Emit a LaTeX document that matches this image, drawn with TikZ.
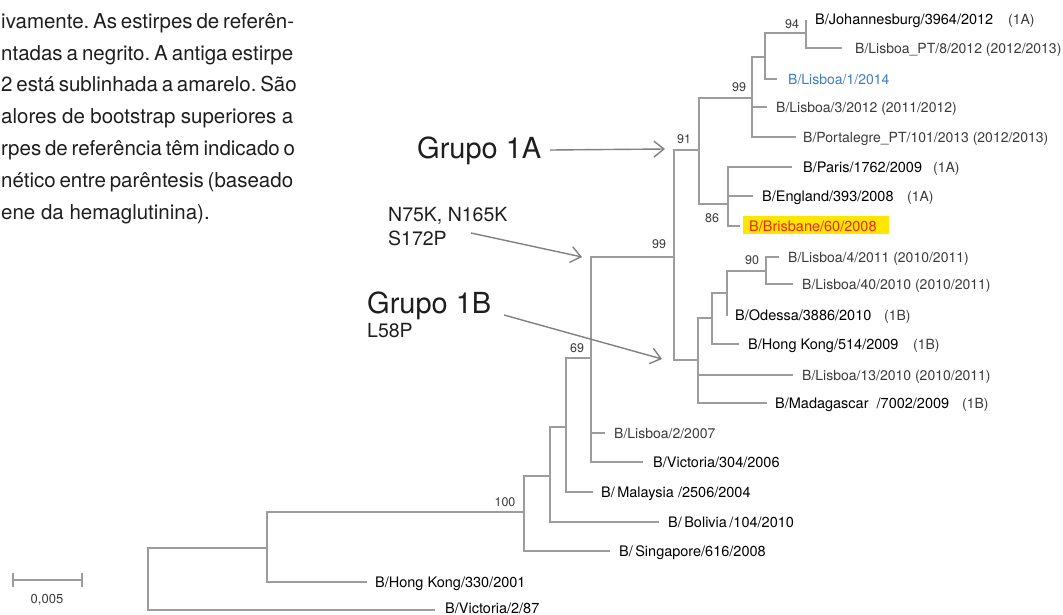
\documentclass[tikz,border=0pt]{standalone}
\usepackage{fontspec}
\setmainfont{TeX Gyre Heros}
\usetikzlibrary{arrows.meta}
\definecolor{treeline}{HTML}{9C9C9C}
\definecolor{arrowgray}{HTML}{808080}
\definecolor{lisboablue}{HTML}{3B7EC3}
\definecolor{hlred}{HTML}{E8271F}
\definecolor{hlyellow}{HTML}{FFE600}
\definecolor{bodytext}{HTML}{1E1E1E}
\definecolor{plainlab}{HTML}{3A3A3A}
\frenchspacing
\begin{document}
\begin{tikzpicture}[x=1pt,y=-1pt,
  branch/.style={draw=treeline, line width=1.2pt},
  reflab/.style={anchor=base west, inner sep=0, font=\fontsize{14.5}{16}\selectfont, text=black},
  lab/.style={anchor=base west, inner sep=0, font=\fontsize{14}{16}\selectfont, text=plainlab},
  suf/.style={anchor=base west, inner sep=0, font=\fontsize{14}{16}\selectfont, text=plainlab},
  boot/.style={inner sep=0, font=\fontsize{12.5}{14}\selectfont, text=plainlab},
  ann/.style={draw=arrowgray, line width=1.4pt, -{Straight Barb[length=10pt,width=16pt]}},
  bodyline/.style={anchor=base west, inner sep=0, font=\fontsize{20.5}{24}\selectfont, text=bodytext},
  grp/.style={anchor=base west, inner sep=0, font=\fontsize{29}{32}\selectfont, text=bodytext},
  mut/.style={anchor=base west, inner sep=0, font=\fontsize{19.5}{22}\selectfont, text=bodytext}]
\useasboundingbox (0,0) rectangle (1063,614);

% ---- caption text (cut at left edge) ----
\node[bodyline] (t1) at (1,28) {\makebox[292pt][s]{ivamente. As estirpes de referên-}};
\node[bodyline] (t2) at (1,60) {\makebox[292pt][s]{ntadas a negrito. A antiga estirpe}};
\node[bodyline] (t3) at (1,91) {\makebox[292pt][s]{2 está sublinhada a amarelo. São}};
\node[bodyline] (t4) at (1,123) {\makebox[292pt][s]{alores de bootstrap superiores a}};
\node[bodyline] (t5) at (1,155) {\makebox[292pt][s]{rpes de referência têm indicado o}};
\node[bodyline] (t6) at (1,187) {\makebox[292pt][s]{nético entre parêntesis (baseado}};
\node[bodyline] (t7) at (1,219) {ene da hemaglutinina).};

% ---- internal nodes ----
\coordinate (R) at (148,579);
\coordinate (n1) at (267,548);
\coordinate (n100) at (524,512);
\coordinate (n2) at (550,476);
\coordinate (n3) at (566,427);
\coordinate (n69) at (591,358);
\coordinate (n99a) at (674,257);
\coordinate (n91) at (699,150);
\coordinate (n99b) at (752,98);
\coordinate (n4) at (765,57);
\coordinate (n94) at (806,33);
\coordinate (n86) at (728,204);
\coordinate (n1B) at (698,360);
\coordinate (n5) at (712,318);
\coordinate (n6) at (727,293);
\coordinate (n90) at (766,271);

% ---- leaf ends ----
\coordinate (jo) at (806,20);
\coordinate (lpt8) at (842,48);
\coordinate (l1) at (777,79);
\coordinate (l3) at (767,107);
\coordinate (port) at (796,137);
\coordinate (par) at (792,167);
\coordinate (eng) at (753,196);
\coordinate (bri) at (740,226);
\coordinate (l4) at (779,257);
\coordinate (l40) at (793,284);
\coordinate (ode) at (727,316);
\coordinate (hk514) at (739,344);
\coordinate (l13) at (793,375);
\coordinate (mad) at (767,403);
\coordinate (l2) at (605,433);
\coordinate (vic304) at (643,462);
\coordinate (mal) at (593,492);
\coordinate (bol) at (659,522);
\coordinate (sin) at (610,551);
\coordinate (hk330) at (367,582);
\coordinate (vic87) at (435,610);

% ---- branches ----
\foreach \p/\c in {R/n1, R/vic87, n1/n100, n1/hk330, n100/n2, n100/sin,
  n2/n3, n2/bol, n3/n69, n3/mal, n69/n99a, n69/l2, n69/vic304,
  n99a/n91, n99a/n1B, n91/n99b, n91/n86, n99b/n4, n99b/l3, n99b/port,
  n4/n94, n4/l1, n94/jo, n94/lpt8, n86/par, n86/eng, n86/bri,
  n1B/n5, n1B/l13, n1B/mad, n5/n6, n5/hk514, n6/n90, n6/ode, n90/l4, n90/l40}
  \draw[branch] (\p) |- (\c);

% ---- bootstrap values ----
\node[boot] (b94) at (792,24) {94};
\node[boot] (b99i) at (739,87) {99};
\node[boot] (b91) at (684,139) {91};
\node[boot] (b86) at (712,218) {86};
\node[boot] (b99o) at (659,244) {99};
\node[boot] (b90) at (752,260) {90};
\node[boot] (b69) at (577,348) {69};
\node[boot] (b100) at (505,502) {100};

% ---- leaf labels ----
\node[reflab] (Ljo) at (815,24) {B/Johannesburg/3964/2012};
\node[suf] (Sjo) at (1008,24) {(1A)};
\node[lab] (Llpt8) at (855,53) {B/Lisboa\_PT/8/2012 (2012/2013)};
\node[lab, text=lisboablue] (Ll1) at (788,84) {B/Lisboa/1/2014};
\node[lab] (Ll3) at (776,112) {B/Lisboa/3/2012 (2011/2012)};
\node[lab] (Lport) at (803,142) {B/Portalegre\_PT/101/2013 (2012/2013)};
\node[reflab] (Lpar) at (803,172) {B/Paris/1762/2009};
\node[suf] (Spar) at (933,172) {(1A)};
\node[reflab] (Leng) at (762,201) {B/England/393/2008};
\node[suf] (Seng) at (907,201) {(1A)};
\node[fill=hlyellow, inner sep=0, minimum width=146pt, minimum height=18pt, anchor=west] (Bbri) at (743,225) {};
\node[reflab, text=hlred] (Lbri) at (749,231) {B/Brisbane/60/2008};
\node[lab] (Ll4) at (788,262) {B/Lisboa/4/2011 (2010/2011)};
\node[lab] (Ll40) at (802,289) {B/Lisboa/40/2010 (2010/2011)};
\node[reflab] (Lode) at (735,320) {B/Odessa/3886/2010};
\node[suf] (Sode) at (884,320) {(1B)};
\node[reflab] (Lhk514) at (748,349) {B/Hong Kong/514/2009};
\node[suf] (Shk514) at (913,349) {(1B)};
\node[lab] (Ll13) at (802,380) {B/Lisboa/13/2010 (2010/2011)};
\node[reflab] (Lmad) at (775,408) {B/Madagascar\ \ /7002/2009};
\node[suf] (Smad) at (962,408) {(1B)};
\node[lab] (Ll2) at (614,438) {B/Lisboa/2/2007};
\node[reflab] (Lvic304) at (653,467) {B/Victoria/304/2006};
\node[reflab] (Lmal) at (601,497) {B/\,Malaysia /2506/2004};
\node[reflab] (Lbol) at (668,527) {B/\,Bolivia\,/104/2010};
\node[reflab] (Lsin) at (619,556) {B/\,Singapore/616/2008};
\node[reflab] (Lhk330) at (375,587) {B/Hong Kong/330/2001};
\node[reflab] (Lvic87) at (445,613) {B/Victoria/2/87};

% ---- scale bar ----
\coordinate (sb1) at (13,580);
\coordinate (sb2) at (82,580);
\draw[branch] (sb1) -- (sb2);
\draw[branch] (sb1) ++(0,-7) -- ++(0,14);
\draw[branch] (sb2) ++(0,-7) -- ++(0,14);
\node[boot, font=\fontsize{13}{15}\selectfont] (sblab) at (47,600) {0,005};

% ---- annotations ----
\node[grp] (g1a) at (417,158) {Grupo 1A};
\coordinate (g1a-from) at (550,150);
\coordinate (g1a-tip) at (665,149);
\draw[ann] (g1a-from) -- (g1a-tip);

\node[mut] (m1) at (388,221) {N75K, N165K};
\node[mut] (m2) at (388,245) {S172P};
\coordinate (m-from) at (471,233);
\coordinate (m-tip) at (582,257);
\draw[ann] (m-from) -- (m-tip);

\node[grp] (g1b) at (367,313) {Grupo 1B};
\node[mut] (m3) at (367,337) {L58P};
\coordinate (g1b-from) at (504,315);
\coordinate (g1b-tip) at (662,359);
\draw[ann] (g1b-from) -- (g1b-tip);
\end{tikzpicture}
\end{document}
